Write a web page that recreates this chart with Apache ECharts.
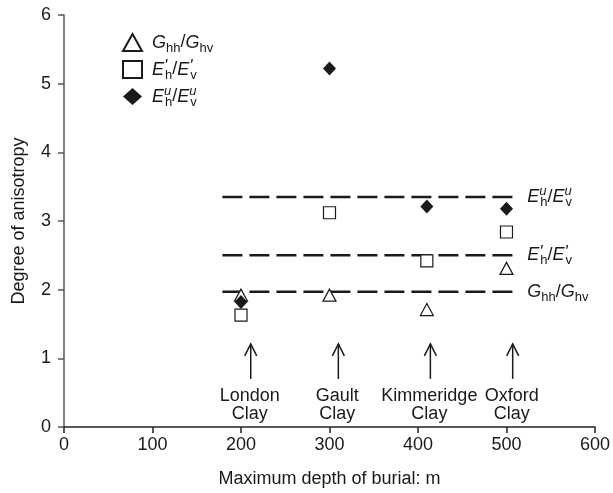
<!DOCTYPE html>
<html>
<head>
<meta charset="utf-8">
<script src="https://cdn.jsdelivr.net/npm/echarts@6/dist/echarts.min.js"></script>
<style>
  html, body { margin: 0; padding: 0; background: #fff; }
  #chart { width: 613px; height: 493px; }
</style>
</head>
<body>
<div id="chart"></div>
<script>
// burial depth (m) of each clay
const depth = [200, 300, 410, 500];
// degree of anisotropy
const gRatio = [1.92, 1.92, 1.71, 2.31];       // Ghh/Ghv
const eDrained = [1.63, 3.12, 2.42, 2.84];     // E'h/E'v
const eUndrained = [1.82, 5.22, 3.21, 3.18];   // Euh/Euv

// mean levels (dashed lines) and their extent along x
const levelG = 1.97;
const levelEd = 2.5;
const levelEu = 3.35;
const levelSpan = [179, 510];

// arrows pointing up at each clay
const arrowDepth = [211, 310, 414, 507];
const arrowTop = 1.21;
const arrowBottom = 0.70;
const clayNames = ['London\nClay', 'Gault\nClay', 'Kimmeridge\nClay', 'Oxford\nClay'];

const FONT = 'Liberation Sans, Arial, sans-serif';
const INK = '#1a1a1a';

// superscript drawn over a 1px box so the following subscript sits under it
const richStyles = {
    i: { fontStyle: 'italic', fontSize: 18, fontFamily: FONT, color: INK, lineHeight: 24 },
    n: { fontSize: 18, fontFamily: FONT, color: INK, lineHeight: 24 },
    sup: { fontSize: 13, fontStyle: 'italic', fontFamily: FONT, color: INK, verticalAlign: 'top', lineHeight: 24, width: 1 },
    pr: { fontSize: 17, fontStyle: 'italic', fontFamily: FONT, color: INK, verticalAlign: 'top', lineHeight: 22, width: 1 },
    sub: { fontSize: 13, fontFamily: FONT, color: INK, verticalAlign: 'bottom', lineHeight: 22 }
};
const labelG = '{i|G}{sub|hh}{n|/}{i|G}{sub|hv}';
const labelEd = "{i|E}{pr|'}{sub|h}{n|/}{i|E}{pr|'}{sub|v}";
const labelEu = '{i|E}{sup|u}{sub|h}{n|/}{i|E}{sup|u}{sub|v}';
const legendText = { 'Ghh/Ghv': labelG, "E'h/E'v": labelEd, 'Euh/Euv': labelEu };

function levelSeries(name, level, label) {
    return {
        name: name,
        type: 'line',
        data: [[levelSpan[0], level], [levelSpan[1], level]],
        symbol: 'none',
        silent: true,
        lineStyle: { color: INK, width: 2.5, type: [20, 7] },
        endLabel: {
            show: true,
            distance: 12,
            formatter: function () { return label; },
            rich: richStyles
        },
        z: 1
    };
}

const chart = echarts.init(document.getElementById('chart'), null, { renderer: 'canvas' });

const option = {
    animation: false,
    backgroundColor: '#fff',
    textStyle: { fontFamily: FONT },
    grid: { left: 64, top: 15, right: 16, bottom: 65, containLabel: false },
    legend: {
        data: ['Ghh/Ghv', "E'h/E'v", 'Euh/Euv'],
        orient: 'vertical',
        left: 117,
        top: 28,
        itemWidth: 19,
        itemHeight: 17,
        itemGap: 3,
        formatter: function (name) { return legendText[name]; },
        textStyle: { rich: richStyles, padding: [0, 0, 0, 5] }
    },
    xAxis: {
        type: 'value',
        min: 0,
        max: 600,
        interval: 100,
        name: 'Maximum depth of burial: m',
        nameLocation: 'middle',
        nameGap: 43,
        nameTextStyle: { fontSize: 18, color: INK, fontFamily: FONT },
        axisLine: { lineStyle: { color: '#222', width: 1.5 } },
        axisTick: { show: true, length: 6, lineStyle: { color: '#222', width: 1.5 } },
        axisLabel: { fontSize: 18, color: INK, margin: 9, fontFamily: FONT },
        splitLine: { show: false }
    },
    yAxis: {
        type: 'value',
        min: 0,
        max: 6,
        interval: 1,
        name: 'Degree of anisotropy',
        nameLocation: 'middle',
        nameGap: 36,
        nameTextStyle: { fontSize: 18, color: INK, fontFamily: FONT },
        axisLine: { show: true, lineStyle: { color: '#555', width: 1.5 } },
        axisTick: { show: true, length: 6, lineStyle: { color: '#555', width: 1.5 } },
        axisLabel: { fontSize: 18, color: INK, margin: 13, fontFamily: FONT },
        splitLine: { show: false }
    },
    series: [
        levelSeries('levelG', levelG, labelG),
        levelSeries('levelEd', levelEd, labelEd),
        levelSeries('levelEu', levelEu, labelEu),
        {
            name: "E'h/E'v",
            type: 'scatter',
            symbol: 'rect',
            symbolSize: 12,
            data: depth.map((d, i) => [d, eDrained[i]]),
            itemStyle: { color: '#fff', borderColor: INK, borderWidth: 1.2, opacity: 1 },
            z: 3
        },
        {
            name: 'Ghh/Ghv',
            type: 'scatter',
            symbol: 'triangle',
            symbolSize: [13, 12],
            data: depth.map((d, i) => [d, gRatio[i]]),
            itemStyle: { color: '#fff', borderColor: INK, borderWidth: 1.2, opacity: 1 },
            z: 4
        },
        {
            name: 'Euh/Euv',
            type: 'scatter',
            symbol: 'diamond',
            symbolSize: [13, 14],
            data: depth.map((d, i) => [d, eUndrained[i]]),
            itemStyle: { color: INK, opacity: 1 },
            z: 5
        },
        {
            name: 'arrows',
            type: 'custom',
            silent: true,
            clip: false,
            data: arrowDepth.map(d => [d, arrowTop, arrowBottom]),
            renderItem: function (params, api) {
                const top = api.coord([api.value(0), api.value(1)]);
                const bot = api.coord([api.value(0), api.value(2)]);
                const lineStyle = { stroke: INK, lineWidth: 1.5, fill: null };
                return {
                    type: 'group',
                    children: [
                        { type: 'line', shape: { x1: top[0], y1: top[1], x2: bot[0], y2: bot[1] }, style: lineStyle },
                        {
                            type: 'polyline',
                            shape: { points: [[top[0] - 6, top[1] + 12], [top[0], top[1]], [top[0] + 6, top[1] + 12]] },
                            style: lineStyle
                        },
                        {
                            type: 'text',
                            style: {
                                x: top[0] - 1,
                                y: bot[1] + 8,
                                text: clayNames[params.dataIndex],
                                align: 'center',
                                verticalAlign: 'top',
                                font: '18px ' + FONT,
                                lineHeight: 18,
                                fill: INK
                            }
                        }
                    ]
                };
            },
            z: 2
        }
    ]
};

chart.setOption(option);
</script>
</body>
</html>
